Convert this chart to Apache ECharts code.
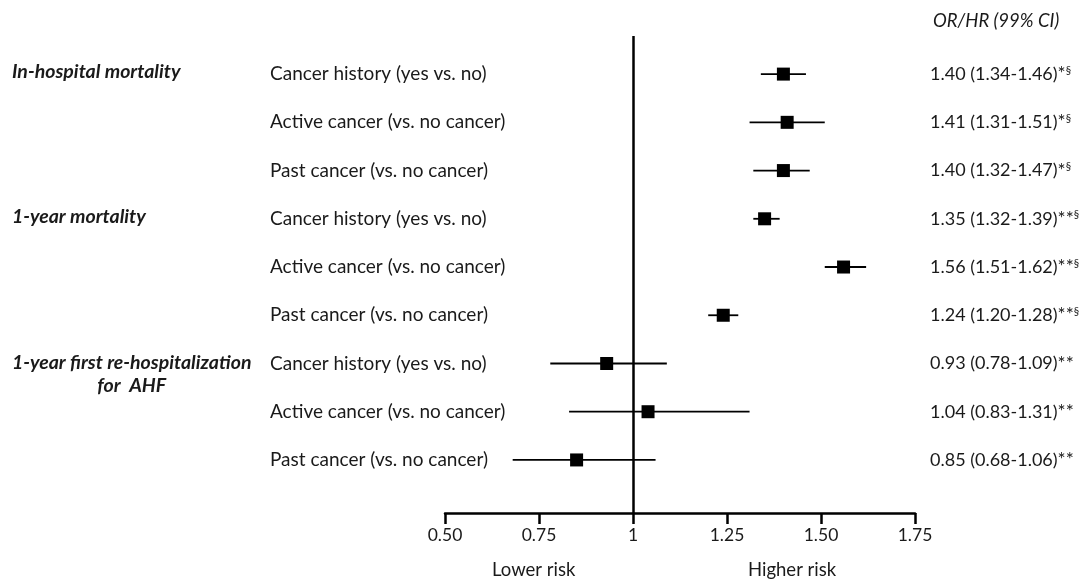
<!DOCTYPE html>
<html>
<head>
<meta charset="utf-8">
<script src="https://cdn.jsdelivr.net/npm/echarts@6/dist/echarts.min.js"></script>
<style>
html,body{margin:0;padding:0;background:#fff;}
#chart{width:1083px;height:581px;}
</style>
</head>
<body>
<div id="chart"></div>
<script>
// ---- data ----
var rowLabels = [
  'Cancer history (yes vs. no)',
  'Active cancer (vs. no cancer)',
  'Past cancer (vs. no cancer)',
  'Cancer history (yes vs. no)',
  'Active cancer (vs. no cancer)',
  'Past cancer (vs. no cancer)',
  'Cancer history (yes vs. no)',
  'Active cancer (vs. no cancer)',
  'Past cancer (vs. no cancer)'
];
var estimates = [1.40, 1.41, 1.40, 1.35, 1.56, 1.24, 0.93, 1.04, 0.85];
var ciLow     = [1.34, 1.31, 1.32, 1.32, 1.51, 1.20, 0.78, 0.83, 0.68];
var ciHigh    = [1.46, 1.51, 1.47, 1.39, 1.62, 1.28, 1.09, 1.31, 1.06];
var stars     = ['*', '*', '*', '**', '**', '**', '**', '**', '**'];
var sections  = ['§', '§', '§', '§', '§', '§', '', '', ''];
var groupNames = ['In-hospital mortality', '1-year mortality', '1-year first re-hospitalization', 'for  AHF'];
var groupRows  = [0, 3, 6];
var xTickLabels = ['0.50', '0.75', '1', '1.25', '1.50', '1.75'];
var headerText = 'OR/HR (99% CI)';
var lowerText = 'Lower risk';
var higherText = 'Higher risk';

var FONT = 'Lato';
var TXT = '#1a1a1a';
var rowIdx = rowLabels.map(function (_, i) { return i; });

function orText(i) {
  var s = estimates[i].toFixed(2) + ' (' + ciLow[i].toFixed(2) + '-' + ciHigh[i].toFixed(2) + ')';
  return '{m|' + s + '}{st|' + stars[i] + '}' + (sections[i] ? '{sup|' + sections[i] + '}' : '');
}

var chart = echarts.init(document.getElementById('chart'), null, {renderer: 'canvas'});

var yBase = {
  type: 'value', min: -0.79, max: 9.1, inverse: true,
  axisLine: {show: false}, axisTick: {show: false}, splitLine: {show: false}
};

var option = {
  backgroundColor: '#fff',
  animation: false,
  textStyle: {fontFamily: FONT},
  grid: {left: 445, width: 470, top: 36, height: 477, containLabel: false},
  xAxis: {
    type: 'value', min: 0.5, max: 1.75, interval: 0.25,
    axisLine: {show: true, onZero: false, lineStyle: {color: '#000', width: 2.5}},
    axisTick: {show: true, inside: false, length: 11, lineStyle: {color: '#000', width: 2.5}},
    splitLine: {show: false},
    axisLabel: {
      margin: 13, fontFamily: FONT, fontSize: 17.5, color: TXT,
      formatter: function (v) {
        var k = Math.round((v - 0.5) / 0.25);
        return xTickLabels[k];
      }
    }
  },
  yAxis: [
    Object.assign({}, yBase, {
      position: 'left',
      axisLabel: {
        show: true, customValues: rowIdx, align: 'left', margin: 175,
        fontFamily: FONT, fontSize: 19, color: TXT,
        formatter: function (v) { return rowLabels[Math.round(v)]; }
      }
    }),
    Object.assign({}, yBase, {
      position: 'right',
      axisLabel: {
        show: true, customValues: rowIdx, align: 'left', margin: 15,
        fontFamily: FONT, color: TXT,
        formatter: function (v) { return orText(Math.round(v)); },
        rich: {
          m: {fontFamily: FONT, fontSize: 18, color: TXT},
          st: {fontFamily: FONT, fontSize: 19, color: TXT},
          sup: {fontFamily: FONT, fontSize: 11, color: TXT, verticalAlign: 'top'}
        }
      }
    })
  ],
  series: [
    {
      type: 'custom',
      name: 'CI',
      xAxisIndex: 0, yAxisIndex: 0,
      encode: {x: [1, 2], y: 0},
      data: rowIdx.map(function (i) { return [i, ciLow[i], ciHigh[i]]; }),
      renderItem: function (params, api) {
        var y = api.value(0);
        var a = api.coord([api.value(1), y]);
        var b = api.coord([api.value(2), y]);
        return {
          type: 'line',
          shape: {x1: a[0], y1: a[1], x2: b[0], y2: b[1]},
          style: {stroke: '#000', lineWidth: 1.8}
        };
      },
      z: 3
    },
    {
      type: 'scatter',
      name: 'Estimate',
      xAxisIndex: 0, yAxisIndex: 0,
      symbol: 'rect', symbolSize: 13,
      itemStyle: {color: '#000', opacity: 1},
      data: rowIdx.map(function (i) { return [estimates[i], i]; }),
      z: 5,
      markLine: {
        silent: true, symbol: ['none', 'none'],
        label: {show: false},
        lineStyle: {color: '#000', width: 2.5, type: 'solid'},
        data: [{xAxis: 1}]
      }
    }
  ]
};
chart.setOption(option);

// group labels, placed on the library's y scale
function rowY(r) { return chart.convertToPixel({yAxisIndex: 0}, r); }
var y0 = rowY(groupRows[0]), y1 = rowY(groupRows[1]), y2 = rowY(groupRows[2]);
var gStyle = {fontFamily: FONT, fontSize: 19.5, fontWeight: 'bold', fontStyle: 'italic', fill: TXT};
chart.setOption({
  graphic: [
    {type: 'text', left: 12, top: y0 - 12, style: Object.assign({text: groupNames[0]}, gStyle)},
    {type: 'text', left: 12, top: y1 - 12, style: Object.assign({text: groupNames[1]}, gStyle)},
    {type: 'text', left: 12, top: y2 - 12, style: Object.assign({}, gStyle, {text: groupNames[2] + '\n' + '{c|' + groupNames[3] + '}',
      lineHeight: 23,
      rich: {c: {fontFamily: FONT, fontSize: 19.5, fontWeight: 'bold', fontStyle: 'italic', fill: TXT, align: 'center', lineHeight: 23}}})},
    {type: 'text', left: 933, top: 12, style: {text: headerText, fontFamily: FONT, fontSize: 18.5, fontStyle: 'italic', fill: TXT}},
    {type: 'text', left: 492, top: 561, style: {text: lowerText, fontFamily: FONT, fontSize: 18.5, fill: TXT}},
    {type: 'text', left: 748, top: 561, style: {text: higherText, fontFamily: FONT, fontSize: 18.5, fill: TXT}}
  ]
});
</script>
</body>
</html>
